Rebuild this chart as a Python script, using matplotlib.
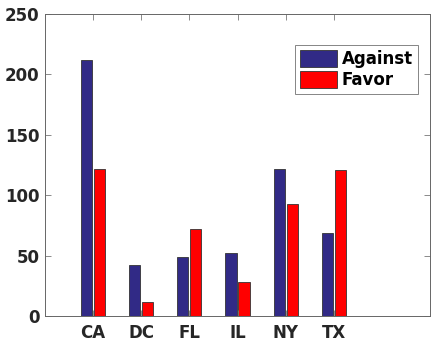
import matplotlib
matplotlib.use("Agg")
import matplotlib.pyplot as plt
import numpy as np

states = ["CA", "DC", "FL", "IL", "NY", "TX"]
against = [212, 42, 49, 52, 122, 69]
favor = [122, 12, 72, 28, 93, 121]

plt.rcParams["font.family"] = "DejaVu Sans"
plt.rcParams["font.weight"] = "bold"

fig = plt.figure(figsize=(4.32, 3.44), dpi=100)
ax = fig.add_axes([45 / 432, 28 / 344, 385 / 432, 302 / 344])

x = np.arange(1, len(states) + 1)
w = 0.23
ax.bar(x - 0.135, against, w, color="#312a86", edgecolor="#333333", linewidth=0.6, label="Against")
ax.bar(x + 0.135, favor, w, color="#ff0000", edgecolor="#333333", linewidth=0.6, label="Favor")

ax.set_xlim(0, 8)
ax.set_ylim(0, 250)
ax.set_xticks(x)
ax.set_xticklabels(states)
ax.set_yticks([0, 50, 100, 150, 200, 250])
ax.tick_params(axis="both", direction="in", labelsize=12, labelcolor="#262626", color="#777777",
               length=4, top=True, right=True, width=0.6)
ax.tick_params(axis="x", pad=6)
ax.tick_params(axis="y", pad=4)
for lbl in ax.get_xticklabels() + ax.get_yticklabels():
    lbl.set_fontweight("bold")
for s in ax.spines.values():
    s.set_color("#666666")
    s.set_linewidth(0.7)

leg = ax.legend(loc="upper right", bbox_to_anchor=(0.969, 0.897), borderaxespad=0,
                fontsize=12, frameon=True, fancybox=False, edgecolor="#666666",
                handlelength=2.2, handleheight=1.2, borderpad=0.3, labelspacing=0.15,
                handletextpad=0.3)
leg.get_frame().set_linewidth(0.7)
for t in leg.get_texts():
    t.set_fontweight("bold")

fig.savefig("out.png", dpi=100)
